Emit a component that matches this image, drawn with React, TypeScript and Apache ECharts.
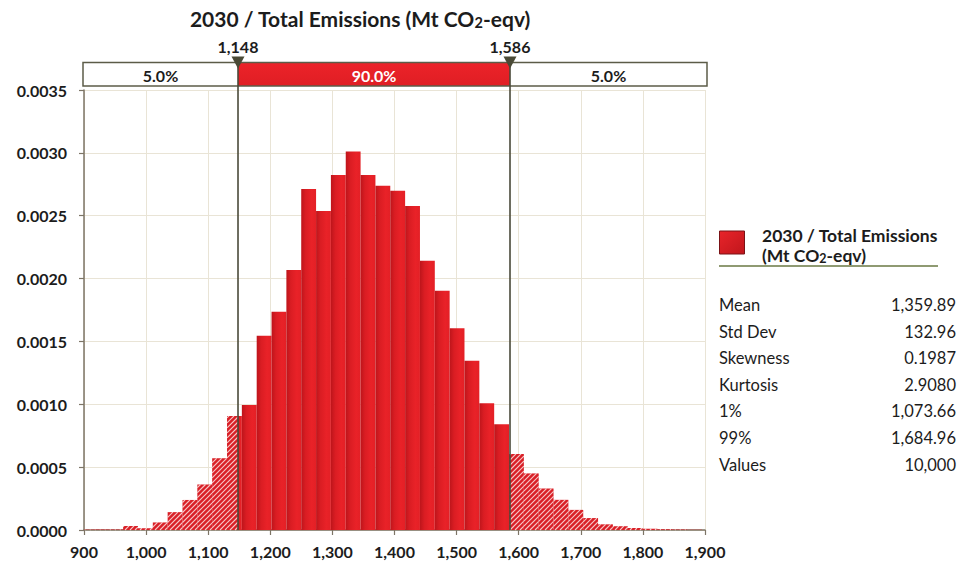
import React, { useEffect, useRef } from 'react';
import * as echarts from 'echarts';

// ---------- data ----------
const xMin = 900;
const xMax = 1900;
const xStep = 100;
const yMin = 0;
const yMax = 0.0035;
const yStep = 0.0005;

const binStart = 891.3;
const binWidth = 23.9;
const densities = [
  0.000003, 0.000003, 0.000004, 0.000032, 0.000014, 0.00006, 0.000142, 0.000239,
  0.000362, 0.00057, 0.000907, 0.000994, 0.001546, 0.001737, 0.002068, 0.002713,
  0.002538, 0.002824, 0.00301, 0.002824, 0.002739, 0.002699, 0.002577, 0.002142,
  0.001904, 0.001604, 0.001347, 0.001008, 0.000841, 0.000605, 0.00045, 0.00033,
  0.00024, 0.00016, 0.000095, 0.000045, 0.00003, 0.000016, 0.00001, 0.000006,
  0.000004, 0.000002,
];

const cutoffs = [1148, 1586];
const bandLabels = ['5.0%', '90.0%', '5.0%'];

const titleText = '2030 / Total Emissions (Mt CO{sub|2}-eqv)';
const legendLine1 = '2030 / Total Emissions';
const legendLine2 = '(Mt CO{sub|2}-eqv)';

const statLabels = ['Mean', 'Std Dev', 'Skewness', 'Kurtosis', '1%', '99%', 'Values'];
const statValues = ['1,359.89', '132.96', '0.1987', '2.9080', '1,073.66', '1,684.96', '10,000'];

// ---------- styles ----------
const FONT = 'Lato, "Open Sans", sans-serif';
const TXT = '#1c1c1c';
const AXIS = '#7d7566';
const GRID = '#e9e4d6';
const DARK = '#4a4a3a';

const solidFill = () =>
  new echarts.graphic.LinearGradient(0, 0, 1, 0, [
    { offset: 0, color: '#bd151b' },
    { offset: 0.3, color: '#da1d23' },
    { offset: 0.7, color: '#e92228' },
    { offset: 1, color: '#e32026' },
  ]);

const HATCH_BASE = '#d91f26';
const HATCH_P = 5;

function hatchLines(x0: number, x1: number, yTop: number, yBot: number) {
  const out: any[] = [];
  const cStart = Math.floor((x0 + yTop) / HATCH_P) * HATCH_P;
  const cEnd = x1 + yBot;
  for (let c = cStart; c <= cEnd; c += HATCH_P) {
    const xa = Math.max(x0, c - yBot);
    const xb = Math.min(x1, c - yTop);
    if (xb - xa > 0.3) {
      out.push({
        type: 'line',
        shape: { x1: xa, y1: c - xa, x2: xb, y2: c - xb },
        style: { stroke: 'rgba(255,240,240,0.8)', lineWidth: 1.1 },
        silent: true,
      });
    }
  }
  return out;
}

const histData = densities.map((d, i) => [binStart + i * binWidth, binStart + (i + 1) * binWidth, d]);

function renderHist(params: any, api: any) {
  const s0 = api.value(0) as number;
  const s1 = api.value(1) as number;
  const d = api.value(2) as number;
  const a = Math.max(s0, xMin);
  const b = Math.min(s1, xMax);
  if (b <= a || d <= 0) return { type: 'group', children: [] };
  const pts = [a];
  cutoffs.forEach((c) => {
    if (c > a && c < b) pts.push(c);
  });
  pts.push(b);
  const children: any[] = [];
  for (let i = 0; i < pts.length - 1; i++) {
    const s = pts[i];
    const e = pts[i + 1];
    const mid = (s + e) / 2;
    const hatched = mid < cutoffs[0] || mid > cutoffs[1];
    const p0 = api.coord([s, d]);
    const p1 = api.coord([e, 0]);
    const x0 = p0[0];
    const x1 = p1[0];
    const yTop = p0[1];
    const yBot = p1[1];
    children.push({
      type: 'rect',
      shape: { x: x0, y: yTop, width: x1 - x0, height: yBot - yTop },
      style: { fill: hatched ? HATCH_BASE : solidFill() },
    });
    if (hatched) children.push(...hatchLines(x0, x1, yTop, yBot));
  }
  return { type: 'group', children };
}

function fmtNum(v: number) {
  return v.toLocaleString('en-US');
}

function renderBand(params: any, api: any) {
  const cs = params.coordSys;
  const xl = cs.x - 1;
  const xr = cs.x + cs.width + 2;
  const lo = api.value(0) as number;
  const hi = api.value(1) as number;
  const pLo = api.coord([lo, 0])[0];
  const pHi = api.coord([hi, 0])[0];
  const bandTop = cs.y - 27.5;
  const bandH = 23.5;
  const axisY = cs.y + cs.height;
  const children: any[] = [];
  children.push({ type: 'rect', shape: { x: xl, y: bandTop, width: xr - xl, height: bandH }, style: { fill: '#ffffff' } });
  children.push({
    type: 'rect',
    shape: { x: pLo, y: bandTop, width: pHi - pLo, height: bandH },
    style: {
      fill: new echarts.graphic.LinearGradient(0, 0, 0, 1, [
        { offset: 0, color: '#ec2329' },
        { offset: 1, color: '#df1e24' },
      ]),
    },
  });
  children.push({
    type: 'rect',
    shape: { x: xl, y: bandTop, width: xr - xl, height: bandH },
    style: { fill: 'none', stroke: '#5c5c48', lineWidth: 1.5 },
  });
  const centers = [(xl + pLo) / 2, (pLo + pHi) / 2, (pHi + xr) / 2];
  centers.forEach((cx, i) => {
    children.push({
      type: 'text',
      x: cx,
      y: bandTop + bandH / 2 + 1,
      style: {
        text: bandLabels[i],
        fill: i === 1 ? '#ffffff' : TXT,
        fontSize: 16,
        fontWeight: 'bold',
        fontFamily: FONT,
        align: 'center',
        verticalAlign: 'middle',
      },
    });
  });
  [pLo, pHi].forEach((p, i) => {
    children.push({
      type: 'line',
      shape: { x1: p, y1: bandTop, x2: p, y2: axisY },
      style: { stroke: DARK, lineWidth: 1.6 },
    });
    children.push({
      type: 'polygon',
      shape: { points: [[p - 6.5, bandTop - 6], [p + 6.5, bandTop - 6], [p, bandTop + 6]] },
      style: { fill: '#4a4a36' },
    });
    children.push({
      type: 'text',
      x: p,
      y: bandTop - 16,
      style: {
        text: fmtNum(i === 0 ? lo : hi),
        fill: TXT,
        fontSize: 16,
        fontWeight: 'bold',
        fontFamily: FONT,
        align: 'center',
        verticalAlign: 'middle',
      },
    });
  });
  return { type: 'group', children };
}

export default function App() {
  const ref = useRef<HTMLDivElement>(null);
  useEffect(() => {
    if (!ref.current) return;
    const chart = echarts.init(ref.current, undefined, { renderer: 'svg' });

    const statEls: any[] = [];
    statLabels.forEach((lab, i) => {
      const y = 305 + i * 26.6;
      statEls.push({
        type: 'text',
        x: 719,
        y,
        style: { text: lab, fill: TXT, fontSize: 16.5, fontFamily: FONT, align: 'left', verticalAlign: 'middle' },
      });
      statEls.push({
        type: 'text',
        x: 956,
        y,
        style: { text: statValues[i], fill: TXT, fontSize: 16.5, fontFamily: FONT, align: 'right', verticalAlign: 'middle' },
      });
    });

    chart.setOption({
      animation: false,
      textStyle: { fontFamily: FONT },
      grid: { left: 84, right: 256, top: 90, bottom: 41, containLabel: false },
      xAxis: {
        type: 'value',
        min: xMin,
        max: xMax,
        interval: xStep,
        axisLine: { show: true, lineStyle: { color: AXIS, width: 1.5 } },
        axisTick: { show: true, length: 5, lineStyle: { color: AXIS, width: 1.2 } },
        axisLabel: {
          formatter: (v: number) => fmtNum(v),
          color: TXT,
          fontSize: 16,
          fontWeight: 'bold',
          fontFamily: FONT,
          margin: 13,
        },
        splitLine: { show: true, lineStyle: { color: GRID, width: 1 } },
      },
      yAxis: {
        type: 'value',
        min: yMin,
        max: yMax,
        interval: yStep,
        axisLine: { show: true, lineStyle: { color: AXIS, width: 1.5 } },
        axisTick: { show: true, length: 5, lineStyle: { color: AXIS, width: 1.2 } },
        axisLabel: {
          formatter: (v: number) => v.toFixed(4),
          color: TXT,
          fontSize: 16,
          fontWeight: 'bold',
          fontFamily: FONT,
          margin: 17,
        },
        splitLine: { show: true, lineStyle: { color: GRID, width: 1 } },
      },
      series: [
        {
          type: 'custom',
          name: 'hist',
          renderItem: renderHist,
          data: histData,
          encode: { x: [0, 1], y: 2 },
          clip: false,
          z: 2,
          silent: true,
        },
        {
          type: 'custom',
          name: 'band',
          renderItem: renderBand,
          data: [[cutoffs[0], cutoffs[1]]],
          encode: { x: [0, 1] },
          clip: false,
          z: 5,
          silent: true,
        },
      ],
      graphic: [
        {
          type: 'text',
          x: 360,
          y: 18,
          style: {
            text: titleText,
            fill: TXT,
            fontSize: 21,
            fontWeight: 'bold',
            fontFamily: FONT,
            align: 'center',
            verticalAlign: 'middle',
            rich: {
              sub: { fontSize: 14.5, fontWeight: 'bold', fontFamily: FONT, fill: TXT, padding: [8, 0, 0, 0] },
            },
          },
        },
        {
          type: 'rect',
          shape: { x: 719.5, y: 231, width: 25, height: 23 },
          style: {
            fill: new echarts.graphic.LinearGradient(0, 0, 1, 1, [
              { offset: 0, color: '#e8242a' },
              { offset: 1, color: '#c0161c' },
            ]),
            stroke: '#7a1216',
            lineWidth: 1,
          },
        },
        {
          type: 'text',
          x: 762,
          y: 235,
          style: {
            text: legendLine1,
            fill: TXT,
            fontSize: 17.5,
            lineHeight: 18,
            fontWeight: 'bold',
            fontFamily: FONT,
            align: 'left',
            verticalAlign: 'middle',
          },
        },
        {
          type: 'text',
          x: 762,
          y: 255,
          style: {
            text: legendLine2,
            fill: TXT,
            fontSize: 17.5,
            lineHeight: 18,
            fontWeight: 'bold',
            fontFamily: FONT,
            align: 'left',
            verticalAlign: 'middle',
            rich: {
              sub: { fontSize: 12.5, lineHeight: 12, fontWeight: 'bold', fontFamily: FONT, fill: TXT, padding: [7, 0, 0, 0] },
            },
          },
        },
        {
          type: 'line',
          shape: { x1: 719, y1: 266, x2: 938, y2: 266 },
          style: { stroke: '#8f9a72', lineWidth: 2 },
        },
        ...statEls,
      ],
    });
    return () => chart.dispose();
  }, []);
  return <div ref={ref} style={{ position: 'absolute', left: 0, top: 0, width: 961, height: 571 }} />;
}
